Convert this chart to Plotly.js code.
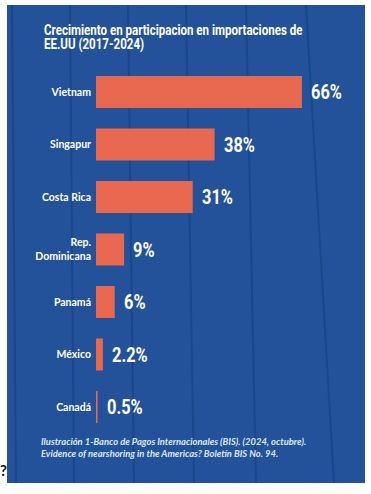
<!DOCTYPE html>
<html><head><meta charset="utf-8">
<script src="https://cdn.plot.ly/plotly-3.0.1.min.js"></script>
<style>html,body{margin:0;padding:0;background:#fff}#c{width:371px;height:494px}</style>
</head><body><div id="c"></div>
<script>
const categories = ["Vietnam", "Singapur", "Costa Rica", "Rep.<br>Dominicana", "Panamá", "México", "Canadá"];
const values = [66, 38, 31, 9, 6, 2.2, 0.5];
const valueLabels = ["66%", "38%", "31%", "9%", "6%", "2.2%", "0.5%"];
const titleText = "Crecimiento en participacion en importaciones de<br>EE.UU (2017-2024)";
const sourceText = "<i>Ilustración 1-Banco de Pagos Internacionales (BIS). (2024, octubre).<br>Evidence of nearshoring in the Americas? Boletín BIS No. 94.</i>";

const W = 371, H = 494;
const px = x => x / W, py = y => 1 - y / H;
const cond = "Roboto, 'Liberation Sans', sans-serif";

const shapes = [
  {type:'rect', xref:'paper', yref:'paper', x0:px(7), x1:px(365), y0:py(483), y1:py(5),
   fillcolor:'#24529a', line:{width:0}, layer:'below'}
];
const stripes = [[12,16],[70,74],[128,134],[186,194],[246,256],[306,334]];
stripes.forEach(s => shapes.push({type:'line', xref:'paper', yref:'paper', x0:px(s[0]), x1:px(s[1]), y0:py(5), y1:py(483),
  line:{color:'rgba(20,55,120,0.45)', width:2}, layer:'below'}));

const annotations = values.map((v,i) => ({
  x: v, y: categories[i], xref:'x', yref:'y', text: valueLabels[i], showarrow:false,
  xanchor:'left', yanchor:'middle', align:'left', xshift:7,
  font:{family:cond, size:21, color:'#ffffff', weight:'bold'}
}));
const titleIdx = annotations.length;
annotations.push({x:px(42), y:py(19), xref:'paper', yref:'paper', xanchor:'left', yanchor:'top', align:'left',
  width:275, text:titleText, showarrow:false, font:{family:cond, size:15, color:'#ffffff', weight:'bold'}});
annotations.push({x:px(39), y:py(434), xref:'paper', yref:'paper', xanchor:'left', yanchor:'top', align:'left',
  text:'<b>'+sourceText+'</b>', showarrow:false, font:{family:'Lato, sans-serif', size:9.4, color:'#dbe7f7'}});
annotations.push({x:px(-2), y:py(470), xref:'paper', yref:'paper', xanchor:'left', yanchor:'middle',
  text:'<b>?</b>', showarrow:false, font:{family:'Lato, sans-serif', size:15, color:'#111'}});

Plotly.newPlot('c', [{
  type:'bar', orientation:'h', x: values, y: categories,
  marker:{color:'#e8694f'}, width:0.61, hoverinfo:'none'
}], {
  width:W, height:H, margin:{l:0,r:0,t:0,b:0},
  paper_bgcolor:'#ffffff', plot_bgcolor:'rgba(0,0,0,0)', showlegend:false,
  xaxis:{domain:[px(96),1], range:[0,(W-96)/3.12], visible:false, fixedrange:true},
  yaxis:{domain:[py(433.25), py(65.75)], type:'category', range:[6.5,-0.5], showgrid:false, zeroline:false,
    showline:false, ticks:'', ticklabelstandoff:4,
    tickfont:{family:'Lato, sans-serif', size:10.5, color:'#ffffff', weight:'bold'}},
  shapes: shapes, annotations: annotations, bargap:0.39
}, {staticPlot:true}).then(gd => {
  // emulate the condensed display face of the original by squeezing glyphs horizontally
  const anns = gd.querySelectorAll('g.annotation');
  for (let i = 0; i < values.length; i++) {
    const t = anns[i] && anns[i].querySelector('text.annotation-text');
    if (!t) continue;
    t.setAttribute('lengthAdjust', 'spacingAndGlyphs');
    t.setAttribute('textLength', (t.getComputedTextLength() * 0.78).toFixed(2));
  }
  const tt = anns[titleIdx] && anns[titleIdx].querySelector('text.annotation-text');
  if (tt) {
    const lines = tt.querySelectorAll('tspan.line');
    lines.forEach((ln, k) => {
      ln.setAttribute('lengthAdjust', 'spacingAndGlyphs');
      ln.setAttribute('textLength', (ln.getComputedTextLength() * 0.77).toFixed(2));
      if (k > 0) ln.setAttribute('dy', '13.5px');
    });
  }
});
</script></body></html>
